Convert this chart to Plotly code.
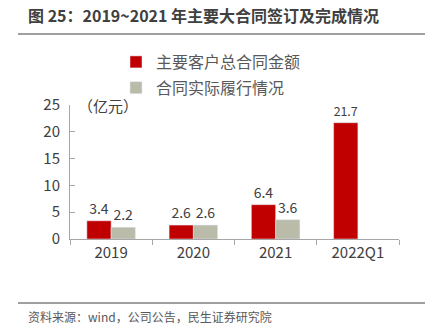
import plotly.graph_objects as go

categories = ["2019", "2020", "2021", "2022Q1"]
contract_total = [3.4, 2.6, 6.4, 21.7]
actual_perf = [2.2, 2.6, 3.6, None]
series_names = ["主要客户总合同金额", "合同实际履行情况"]
title_text = "图 25：2019~2021 年主要大合同签订及完成情况"
source_text = "资料来源：wind，公司公告，民生证券研究院"
unit_text = "（亿元）"

W, H = 442, 329
L, R, T, B = 70, 43, 105, 90
pw, ph = W - L - R, H - T - B

def px_x(x):
    return (x - L) / pw

def px_y(y):
    return (H - B - y) / ph

FONT = "Noto Sans CJK SC, Noto Sans, sans-serif"
TXT = "#404040"

fig = go.Figure()
fig.add_bar(x=categories, y=contract_total, name=series_names[0],
            marker_color="#C00000", legendgroup="a",
            text=[f"{v:.1f}" for v in contract_total], textposition="outside",
            textfont=dict(size=14, color=TXT), cliponaxis=False)
fig.add_bar(x=categories, y=actual_perf, name=series_names[1],
            marker_color="#BBBBA9", legendgroup="b",
            text=[("" if v is None else f"{v:.1f}") for v in actual_perf],
            textposition="outside",
            textfont=dict(size=14, color=TXT), cliponaxis=False)

fig.update_layout(
    width=W, height=H,
    margin=dict(l=L, r=R, t=T, b=B),
    paper_bgcolor="white", plot_bgcolor="white",
    font=dict(family=FONT, color=TXT),
    barmode="group", bargap=0.41, bargroupgap=0,
    showlegend=True,
    legend=dict(x=px_x(116), y=px_y(45), xanchor="left", yanchor="top",
                font=dict(size=16, color="#595959"), tracegroupgap=2,
                itemwidth=30, bgcolor="rgba(0,0,0,0)"),
    xaxis=dict(showline=True, linecolor="#A6A6A6", linewidth=1,
               ticks="outside", tickson="boundaries", ticklen=5,
               tickcolor="#A6A6A6", tickfont=dict(size=15, color=TXT),
               showgrid=False, fixedrange=True),
    yaxis=dict(range=[0, 25], dtick=5, showline=True, linecolor="#A6A6A6",
               linewidth=1, ticks="inside", ticklen=5, tickcolor="#A6A6A6",
               tickfont=dict(size=15, color=TXT), showgrid=False,
               zeroline=False, ticklabelstandoff=6, fixedrange=True),
)

fig.add_annotation(text=f"<b>{title_text}</b>", xref="paper", yref="paper",
                   x=px_x(26), y=px_y(15), xanchor="left", yanchor="middle",
                   showarrow=False, font=dict(size=16, color="#404040"))
fig.add_annotation(text=unit_text, xref="paper", yref="paper",
                   x=px_x(76), y=px_y(105), xanchor="left", yanchor="middle",
                   showarrow=False, font=dict(size=15, color=TXT))
fig.add_annotation(text=source_text, xref="paper", yref="paper",
                   x=px_x(26), y=px_y(316), xanchor="left", yanchor="middle",
                   showarrow=False, font=dict(size=12, color="#595959"))

for yy in (34, 303):
    fig.add_shape(type="line", xref="paper", yref="paper",
                  x0=px_x(18), x1=px_x(425), y0=px_y(yy), y1=px_y(yy),
                  line=dict(color="#7F7F7F", width=1.5))

fig.write_html("out.html")
